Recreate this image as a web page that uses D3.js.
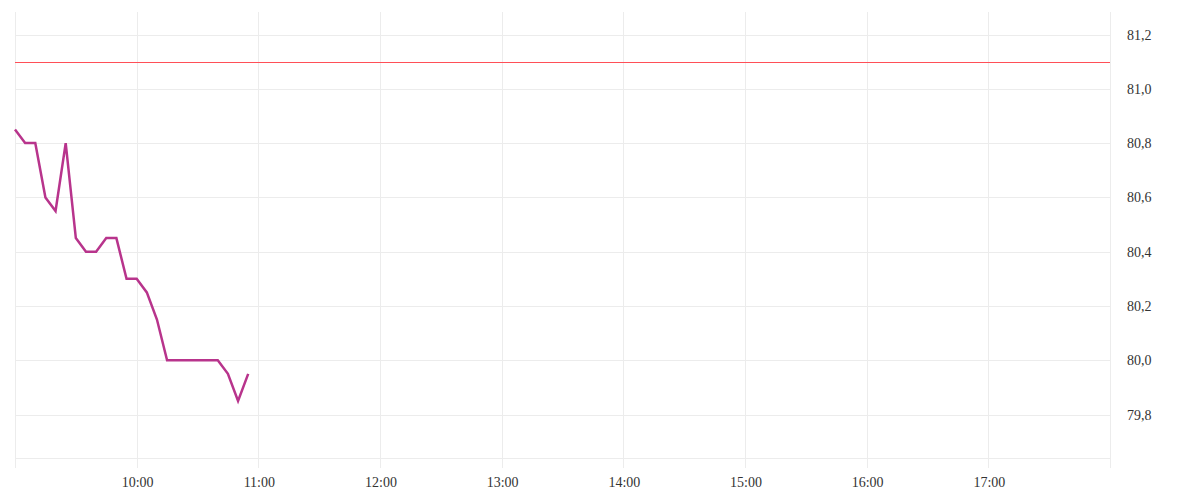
<!DOCTYPE html>
<html>
<head>
<meta charset="utf-8">
<script src="https://cdn.jsdelivr.net/npm/d3@7"></script>
<style>
	body { margin: 0; background: #fff; }
	svg { display: block; }
	.tick-label { font-family: "Liberation Serif", serif; font-size: 14px; fill: #333; }
</style>
</head>
<body>
<svg></svg>
<script>
const times = [
	"09:00", "09:05", "09:10", "09:15", "09:20", "09:25", "09:30", "09:35",
	"09:40", "09:45", "09:50", "09:55", "10:00", "10:05", "10:10", "10:15",
	"10:20", "10:25", "10:30", "10:35", "10:40", "10:45", "10:50", "10:55"
];
const prices = [
	80.85, 80.80, 80.80, 80.60, 80.55, 80.80, 80.45, 80.40,
	80.40, 80.45, 80.45, 80.30, 80.30, 80.25, 80.15, 80.00,
	80.00, 80.00, 80.00, 80.00, 80.00, 79.95, 79.85, 79.95
];
const refLevel = 81.1;
const yTicks = [79.8, 80.0, 80.2, 80.4, 80.6, 80.8, 81.0, 81.2];
const xTickHours = ["09:00", "10:00", "11:00", "12:00", "13:00", "14:00", "15:00", "16:00", "17:00", "18:00"];
const xLabelHours = ["10:00", "11:00", "12:00", "13:00", "14:00", "15:00", "16:00", "17:00"];

const width = 1200;
const height = 500;
const plot = { left: 15, right: 1110, top: 12, bottom: 458 };

const parseTime = d3.timeParse("%H:%M");
const fmtTime = d3.timeFormat("%H:%M");
const locale = d3.formatLocale({ decimal: ",", thousands: ".", grouping: [3], currency: ["", "€"] });
const fmtVal = locale.format(".1f");

const data = times.map(function(t, i){
	return { t: parseTime(t), v: prices[i] };
});

const x = d3.scaleTime()
	.domain([parseTime("09:00"), parseTime("18:00")])
	.range([plot.left, plot.right]);

const y = d3.scaleLinear()
	.domain([79.64, 81.283])
	.range([plot.bottom, plot.top]);

let svg = d3.select('svg')
	.attr('width', width)
	.attr('height', height);

// horizontal grid
let grid = svg.append('g').classed('grid', true);
grid.selectAll('line.h')
	.data(yTicks)
	.enter()
	.append('line')
	.attr('x1', plot.left)
	.attr('x2', plot.right)
	.attr('y1', function(d){ return Math.round(y(d)) + 0.5; })
	.attr('y2', function(d){ return Math.round(y(d)) + 0.5; })
	.attr('stroke', '#ececec');

// bottom border
grid.append('line')
	.attr('x1', plot.left)
	.attr('x2', plot.right)
	.attr('y1', plot.bottom + 0.5)
	.attr('y2', plot.bottom + 0.5)
	.attr('stroke', '#ececec');

// vertical grid, running past the bottom as ticks
grid.selectAll('line.v')
	.data(xTickHours.map(parseTime))
	.enter()
	.append('line')
	.attr('x1', function(d){ return Math.round(x(d)) + 0.5; })
	.attr('x2', function(d){ return Math.round(x(d)) + 0.5; })
	.attr('y1', plot.top)
	.attr('y2', plot.bottom + 10)
	.attr('stroke', '#ececec');

// x labels
svg.append('g')
	.selectAll('text')
	.data(xLabelHours.map(parseTime))
	.enter()
	.append('text')
	.classed('tick-label', true)
	.attr('x', function(d){ return x(d) + 1; })
	.attr('y', 487)
	.attr('text-anchor', 'middle')
	.text(fmtTime);

// y labels
svg.append('g')
	.selectAll('text')
	.data(yTicks)
	.enter()
	.append('text')
	.classed('tick-label', true)
	.attr('x', 1127)
	.attr('y', function(d){ return y(d) + 5; })
	.text(fmtVal);

// reference level
svg.append('line')
	.attr('x1', plot.left)
	.attr('x2', plot.right)
	.attr('y1', Math.round(y(refLevel)) + 0.5)
	.attr('y2', Math.round(y(refLevel)) + 0.5)
	.attr('stroke', '#ff4f57')
	.attr('stroke-width', 1);

// price line
let line = d3.line()
	.x(function(d){ return x(d.t); })
	.y(function(d){ return y(d.v); });

svg.append('path')
	.datum(data)
	.attr('fill', 'none')
	.attr('stroke', '#b8348c')
	.attr('stroke-width', 2.5)
	.attr('stroke-linejoin', 'miter')
	.attr('d', line);
</script>
</body>
</html>
